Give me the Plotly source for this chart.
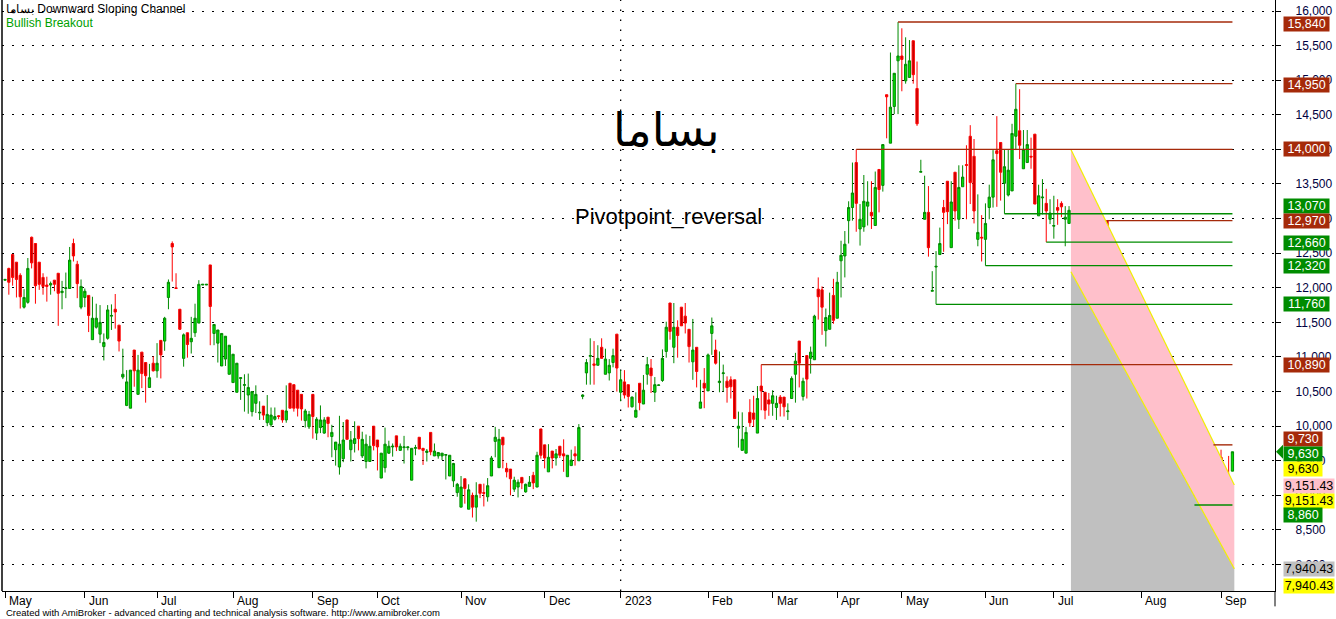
import plotly.graph_objects as go

# ---------------- price data (one entry per trading bar) ----------------
opens = [
12110,12280,12480,12370,12180,11720,11790,12730,12640,12370,
12150,12040,12040,12110,12210,11930,11990,11990,12640,12340,
11720,11860,11890,11250,11430,11330,11150,11270,11590,11690,
11460,10710,10300,10260,11100,10460,11070,10920,10560,10910,
10800,11240,11230,11860,12640,12000,11690,10980,11350,11220,
11350,11490,12040,12040,12330,11340,11200,10870,10970,10750,
10630,10490,10690,10590,10450,10210,10330,10190,10290,10050,
10020,10100,10150,10230,10090,10620,10600,10520,10460,10080,
9990,10460,9900,9980,9900,10130,9850,9660,9410,9530,
10090,9660,9750,10000,9570,9490,9490,10000,9800,9250,
9400,9610,9700,9860,9650,9690,9690,9220,9680,9840,
9680,9620,9910,9570,9570,9570,9580,9280,9210,9040,
8830,9240,8800,9000,8830,9160,9040,8980,9280,9780,
9400,9840,9390,9380,9090,9120,9260,9050,9130,9290,
9120,9960,9730,9340,9640,9540,9710,9600,9270,9430,
9600,9500,10430,10770,11010,10900,10880,11140,10750,10770,
10920,11330,10490,10640,10600,10280,10130,10620,10320,10750,
10840,10490,10590,10660,11080,11780,11140,11430,11720,11590,
11400,10930,11140,10260,10620,10510,11340,11100,10630,10760,
10650,10670,10670,9970,9650,9610,10200,10190,9900,10580,
10490,10380,10330,10270,10420,10420,10210,10400,10750,11230,
10430,11020,10980,10960,11980,11970,11380,11400,11890,11560,
12390,12460,12970,13160,13810,12850,12880,13180,13090,12900,
13710,13480,14790,14090,14620,15280,15350,14990,15040,15570,
14880,13670,12990,13090,11950,12300,12480,13160,13540,12580,
13670,12990,13460,13780,14190,13900,12700,12730,12700,13160,
13310,13980,14100,13510,13340,13400,14190,14270,13720,13810,
13900,14220,13040,13300,13220,12990,12890,13160,13220,12990,
12930,13240,12890,12790,12800,12680,12680,12680,12380,12380,
12970,11490,11830,11780,11740,11510,11830,11470,11180,11510,
11570,11300,11090,11020,10840,10600,9810,9840,10160,9870,
9570,8980,9040,9150,9150,9250,9170,9160,9520,9180,
9550,9380,9250,9350,
]
highs = [
12130,12290,12490,12370,12210,11980,12430,12740,12640,12370,
12210,12160,12090,12110,12210,12100,12220,12590,12710,12390,
12120,11990,11890,11870,11770,11750,11340,11750,11760,11910,
11460,11120,10810,10810,11100,11030,11070,10920,10900,11010,
11200,11240,11580,12120,12670,12210,11690,11340,11350,11580,
11770,12110,12050,12050,12330,11470,11390,11340,11300,11170,
11040,10910,10710,10750,10760,10500,10590,10360,10290,10450,
10270,10270,10160,10230,10590,10620,10600,10520,10460,10250,
10220,10460,10130,10300,10130,10130,10020,9770,10150,10060,
10090,9930,10070,10000,9920,9880,9860,10000,9800,9610,
9980,9790,9750,9860,9750,9860,9700,9680,9730,9840,
9680,9670,9910,9750,9620,9610,9590,9580,9470,9180,
9280,9240,9160,9040,9190,9160,9170,9250,9570,9990,
9960,9840,9470,9380,9270,9230,9260,9170,9280,9340,
9630,9960,9730,9740,9640,9670,9710,9810,9580,9660,
9710,10030,10460,10970,11270,11230,11170,11270,11120,10970,
11120,11330,10810,10810,10600,10430,10490,10620,10740,11000,
10970,10710,10600,11110,11510,11780,11780,11530,11720,11780,
11400,11550,11140,10670,10840,11050,11570,11250,11080,10890,
10720,10720,10670,10210,10200,9990,10390,10440,10580,10890,
10490,10480,10520,10440,10450,10420,10330,10720,11060,11230,
10700,11020,11150,11610,12150,12020,11700,11930,12130,12230,
12680,12820,13250,13810,14000,13210,13630,13540,13540,13680,
13710,14070,14790,15400,15100,15840,15750,15620,15580,15570,
15270,13850,13620,13470,12240,12530,12870,13270,13540,13540,
13670,13770,13770,14060,14350,14150,13350,13050,13220,13490,
13990,14480,14100,14000,14000,14370,14950,14870,14280,14280,
14170,14220,13490,13570,13430,13280,13330,13280,13250,13180,
13180,13240,13020,12920,12980,12690,12690,12690,12390,12390,
12970,11980,11830,12070,11980,11820,12040,11630,11250,11510,
11570,11300,11340,11020,10840,10600,9980,10160,10160,9870,
9570,9440,9350,9250,9200,9320,9170,9450,9730,9540,
9660,9380,9570,9630,
]
lows = [
12100,11900,12030,11860,11700,11700,11770,12280,11770,11970,
11900,11800,11900,11950,11450,11690,11850,11990,12380,11850,
11690,11720,11360,11250,11410,11200,10950,11250,11390,11410,
11080,10680,10290,10260,10570,10460,10550,10340,10560,10790,
10700,10690,11090,11690,12090,11990,11390,10860,10990,11050,
11290,11490,12040,12040,11170,11170,10920,10870,10870,10750,
10630,10490,10380,10210,10180,10140,10190,10090,10090,10000,
9990,10080,10100,10050,10050,10260,10210,10140,10080,9980,
9960,9820,9800,9900,9890,9840,9550,9430,9300,9480,
9810,9490,9620,9650,9540,9390,9490,9650,9360,9250,
9330,9600,9560,9640,9650,9460,9650,9220,9580,9670,
9440,9490,9580,9570,9530,9510,9230,9280,9120,8980,
8830,8880,8800,8680,8620,8960,8840,8910,9280,9550,
9400,9390,9260,9000,9050,8970,9090,9040,9130,9090,
9120,9530,9390,9340,9390,9430,9540,9340,9270,9430,
9430,9500,10390,10600,10600,10600,10880,10980,10750,10660,
10850,10500,10360,10400,10270,10270,10130,10230,10320,10600,
10480,10350,10585,10640,10990,11250,10910,10990,11450,11340,
10920,10670,10560,10260,10260,10510,11030,10890,10490,10500,
10340,10400,10110,9690,9650,9610,9990,9990,9900,10230,
10100,10150,10150,10090,10140,10140,10090,10400,10340,10560,
10370,10400,10760,10960,11540,11320,11150,11400,11480,11560,
11860,12150,12640,12970,12810,12610,12810,12900,12850,12900,
13090,13390,14160,14090,14510,14510,14840,14950,15040,14950,
14340,13670,12990,12450,11950,11760,12480,12520,12920,12580,
12970,12850,13460,12990,13210,12930,12600,12380,12320,12990,
13160,13170,13260,13070,13320,13400,13990,13860,13720,13810,
13720,13210,13040,13060,12660,12920,12710,12910,13020,12600,
12930,12990,12740,12600,12450,12680,12680,12680,12380,12380,
11790,11230,11500,11530,11510,11190,11430,11190,11150,11150,
10790,11150,10990,10600,10260,9850,9810,9840,9690,9560,
9100,8980,9040,8860,8890,8980,8980,9130,9080,9010,
9100,9070,8940,9350,
]
closes = [
12120,12080,12150,12120,11870,11860,12280,12360,12030,12050,
12020,12020,12060,12050,11920,11950,12000,12400,12460,12060,
12020,11950,11600,11560,11560,11500,11210,11680,11600,11650,
11230,10750,10640,10810,10800,10810,10760,10730,10700,10800,
10910,11030,11560,12080,12590,11990,11400,11320,11180,11270,
11560,12050,12050,12050,11730,11470,11390,11340,11300,11170,
11040,10910,10700,10600,10560,10500,10460,10200,10160,10170,
10160,10140,10140,10090,10220,10260,10260,10260,10250,10220,
10170,10140,10100,10090,10090,10040,9910,9770,9740,9800,
9810,9800,9820,9820,9810,9740,9710,9720,9700,9610,
9740,9710,9710,9700,9710,9700,9700,9680,9690,9670,
9650,9640,9630,9640,9620,9610,9590,9580,9460,9160,
9120,9100,9080,8830,9000,9030,9030,9140,9540,9840,
9810,9730,9340,9240,9220,9190,9180,9160,9190,9180,
9580,9580,9540,9550,9540,9600,9580,9570,9580,9510,
9570,9980,10450,10920,11020,10880,10980,10980,10970,10880,
11020,10840,10670,10450,10430,10420,10230,10340,10520,10890,
10730,10600,10595,10980,11430,11370,11430,11310,11450,11490,
11150,11100,10790,10350,10550,11030,11450,10910,10650,10770,
10560,10570,10110,10000,9810,9910,10050,10100,10400,10510,
10230,10320,10440,10330,10330,10280,10220,10690,10940,10910,
10650,10680,11070,11590,11870,11720,11570,11600,11530,12080,
12470,12630,13160,13370,13220,12990,13250,13240,13040,13450,
13420,14070,14760,14610,15100,15350,15300,15230,15280,15080,
14370,13680,13090,12580,11960,12310,12640,13090,13100,13240,
13110,13450,13600,13770,13520,13110,12800,12720,12930,13310,
13850,13940,13670,13750,13700,14230,14580,14060,14000,14070,
13890,13210,13330,13310,13110,13080,12900,13120,13170,13020,
13120,12990,12880,12800,12690,12690,12690,12690,12390,12390,
11790,11660,11750,11850,11750,11610,11630,11310,11200,11170,
11160,11160,11150,10800,10310,10080,9870,10080,9810,9560,
9200,9170,9260,9090,8980,9060,9020,9440,9220,9370,
9280,9180,9180,9630,
]

# ---------------- axis labels ----------------
month_labels = ["May", "Jun", "Jul", "Aug", "Sep", "Oct", "Nov", "Dec", "2023",
                "Feb", "Mar", "Apr", "May", "Jun", "Jul", "Aug", "Sep"]
month_start = [0, 21, 40, 60, 81, 98, 120, 142, 162, 185, 202, 219, 236, 258, 276, 299, 320]
year_label = "2023"
y_ticks = list(range(8000, 16001, 500))

# ---------------- pivot levels (level, bar where it starts) ----------------
res_levels = [15840, 14950, 14000, 12970, 10890, 9730]
res_start = [235, 266, 224, 290, 199, 318]
sup_levels = [13070, 12660, 12320, 11760, 8860]
sup_start = [263, 274, 258, 245, 313]

# ---------------- downward sloping channel ----------------
chan_start_bar = 281
chan_end_bar = 323
chan_upper = [14000, 9151.43]
chan_lower = [12232, 7940.43]

# right-axis value tags: (text, value, background, font colour, vertical nudge px)
tags = [
    ("15,840", 15840, "#A52A0A", "white", -2),
    ("14,950", 14950, "#A52A0A", "white", -1),
    ("14,000", 14000, "#A52A0A", "white", 0),
    ("13,070", 13070, "#008C00", "white", 8),
    ("12,970", 12970, "#A52A0A", "white", 0),
    ("12,660", 12660, "#008C00", "white", -1),
    ("12,320", 12320, "#008C00", "white", 0),
    ("11,760", 11760, "#008C00", "white", 0),
    ("10,890", 10890, "#A52A0A", "white", 0),
    ("9,730", 9730, "#A52A0A", "white", 6),
    ("9,630", 9630, "#008C00", "white", -2),
    ("9,630", 9630, "#FFFF00", "black", -17),
    ("9,151.43", 9151.43, "#FFC0CB", "black", -1),
    ("9,151.43", 9151.43, "#FFFF00", "black", -16),
    ("8,860", 8860, "#008C00", "white", -10),
    ("7,940.43", 7940.43, "#C0C0C0", "black", 0),
    ("7,940.43", 7940.43, "#FFFF00", "black", -17),
]

RED = "#A52A0A"
GREEN = "#008C00"
FONT = "Liberation Sans, Arial, sans-serif"

N = len(closes)
xs = list(range(N))
last = N - 1
Y_MIN, Y_MAX = 7618, 16159
X_MIN, X_MAX = -0.8, 334.2

fig = go.Figure()

# channel fills
c0, c1 = chan_start_bar - 0.5, chan_end_bar + 0.5
fig.add_trace(go.Scatter(
    x=[c0, c1, c1, c0, c0], y=[chan_lower[0], chan_lower[1], Y_MIN, Y_MIN, chan_lower[0]],
    fill="toself", fillcolor="#C0C0C0", mode="lines", line=dict(width=0),
    hoverinfo="skip", showlegend=False))
fig.add_trace(go.Scatter(
    x=[c0, c1, c1, c0, c0],
    y=[chan_upper[0], chan_upper[1], chan_lower[1], chan_lower[0], chan_upper[0]],
    fill="toself", fillcolor="#FFC0CB", mode="lines", line=dict(width=0),
    hoverinfo="skip", showlegend=False))
for vals in (chan_upper, chan_lower):
    fig.add_trace(go.Scatter(x=[c0, c1], y=vals, mode="lines",
                             line=dict(color="#F0F000", width=1.2),
                             hoverinfo="skip", showlegend=False))

# candles
fig.add_trace(go.Candlestick(
    x=xs, open=opens, high=highs, low=lows, close=closes,
    increasing=dict(line=dict(color="#008A00", width=1), fillcolor="#00E000"),
    decreasing=dict(line=dict(color="#FF0000", width=1), fillcolor="#C00000"),
    whiskerwidth=0, hoverinfo="skip", showlegend=False))

# pivot lines
def level_trace(levels, starts, color):
    lx, ly = [], []
    for lv, st in zip(levels, starts):
        lx += [st, last, None]
        ly += [lv, lv, None]
    return go.Scatter(x=lx, y=ly, mode="lines", line=dict(color=color, width=1.4),
                      hoverinfo="skip", showlegend=False, connectgaps=False)

fig.add_trace(level_trace(res_levels, res_start, RED))
fig.add_trace(level_trace(sup_levels, sup_start, GREEN))

annotations = []
# month labels (left aligned next to the tick)
for lab, pos in zip(month_labels, month_start):
    annotations.append(dict(x=pos, y=0, xref="x", yref="paper", text=lab,
                            xanchor="left", yanchor="top", xshift=2, yshift=-1,
                            showarrow=False, font=dict(family=FONT, size=12, color="black")))


def tag_width(s):
    digits = sum(ch.isdigit() for ch in s)
    punct = len(s) - digits
    return min(digits * 6.95 + punct * 3.47 + 7, 50)


# right axis tags
tag_x = 1 + 8 / 1273
for text, val, bg, fc, sh in tags:
    annotations.append(dict(x=tag_x, y=val, xref="paper", yref="y", text=text,
                            xanchor="left", yanchor="middle", yshift=sh, showarrow=False,
                            bgcolor=bg, borderpad=0, width=tag_width(text), align="center",
                            font=dict(family=FONT, size=12.5, color=fc)))
# titles
annotations += [
    dict(x=2 / 1273, y=1 - 9 / 591, xref="paper", yref="paper",
         text="بساما Downward Sloping Channel", xanchor="left", yanchor="middle",
         showarrow=False, font=dict(family=FONT, size=12, color="black")),
    dict(x=2 / 1273, y=1 - 23 / 591, xref="paper", yref="paper",
         text="Bullish Breakout", xanchor="left", yanchor="middle",
         showarrow=False, font=dict(family=FONT, size=12, color="#00A000")),
    dict(x=(666 - 2) / 1273, y=1 - 130 / 591, xref="paper", yref="paper",
         text="بساما", xanchor="center", yanchor="middle", showarrow=False,
         font=dict(family="DejaVu Sans", size=46, color="black")),
    dict(x=(668 - 2) / 1273, y=1 - 217 / 591, xref="paper", yref="paper",
         text="Pivotpoint_reversal", xanchor="center", yanchor="middle", showarrow=False,
         font=dict(family=FONT, size=22, color="black")),
    dict(x=2 / 1273, y=-21 / 591, xref="paper", yref="paper",
         text="Created with AmiBroker - advanced charting and technical analysis software. http://www.amibroker.com",
         xanchor="left", yanchor="middle", showarrow=False,
         font=dict(family=FONT, size=9.5, color="black")),
]

shapes = [
    # year separator
    dict(type="line", xref="x", yref="paper", x0=month_start[month_labels.index(year_label)],
         x1=month_start[month_labels.index(year_label)], y0=0, y1=1,
         line=dict(color="black", width=1.3, dash="1.5px,8.5px"), layer="below"),
    # left border
    dict(type="line", xref="paper", yref="paper", x0=0, x1=0, y0=0, y1=1,
         line=dict(color="black", width=1.5)),
    # right axis line extension below the plot
    dict(type="line", xref="paper", yref="paper", x0=1, x1=1, y0=-0.026, y1=0,
         line=dict(color="black", width=1)),
    # last price arrow
    dict(type="path", xref="paper", yref="y", xsizemode="pixel", ysizemode="pixel",
         xanchor=1, yanchor=closes[-1], path="M1,0 L8,7 L8,-7 Z",
         fillcolor=GREEN, line=dict(width=0)),
]

fig.update_layout(
    width=1336, height=619,
    margin=dict(l=2, r=61, t=0, b=28),
    paper_bgcolor="white", plot_bgcolor="white",
    showlegend=False,
    boxgap=0.15,
    font=dict(family=FONT, size=12, color="black"),
    annotations=annotations, shapes=shapes,
    xaxis=dict(range=[X_MIN, X_MAX], showgrid=False, zeroline=False,
               showline=True, linecolor="black", linewidth=1.2,
               tickvals=month_start, ticktext=month_labels, showticklabels=False,
               ticks="outside", ticklen=6, tickcolor="black", tickwidth=1,
               rangeslider=dict(visible=False), fixedrange=True),
    yaxis=dict(side="right", range=[Y_MIN, Y_MAX], tickvals=y_ticks,
               ticktext=[f"{v:,}" for v in y_ticks],
               showgrid=True, gridcolor="black", gridwidth=1.3, griddash="1.5px,8.5px",
               zeroline=False, showline=True, linecolor="black", linewidth=1.2,
               ticks="outside", ticklen=5, tickcolor="black",
               ticklabelstandoff=12,
               tickfont=dict(family=FONT, size=12, color="#000040"),
               fixedrange=True),
)

fig.write_html("out.html", config={"displayModeBar": False},
               post_script="document.body.style.margin='0px';document.body.style.overflow='hidden';")
